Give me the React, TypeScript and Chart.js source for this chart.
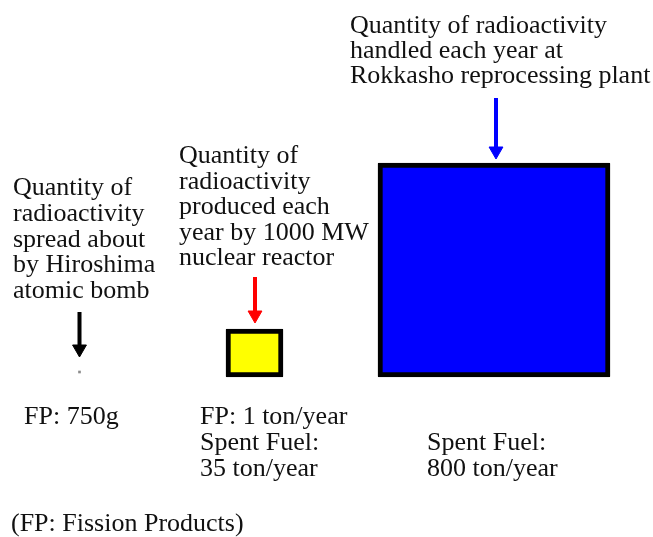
import React, { useEffect, useRef } from 'react';
import { Chart, registerables } from 'chart.js';

Chart.register(...registerables);

// ---- data ----
const categories = ['Hiroshima atomic bomb', '1000 MW nuclear reactor', 'Rokkasho reprocessing plant'];
// relative size of each radioactivity square (width, height in chart units)
const boxWidths = [2, 57, 232];
const boxHeights = [2, 48, 214];
const boxColors = ['#8c8c8c', '#ffff00', '#0000ff'];
const arrowColors = ['#000000', '#ff0000', '#0000ff'];

const hiroshimaLines = ['Quantity of', 'radioactivity', 'spread about', 'by Hiroshima', 'atomic bomb'];
const reactorLines = ['Quantity of', 'radioactivity', 'produced each', 'year by 1000 MW', 'nuclear reactor'];
const rokkashoLines = ['Quantity of radioactivity', 'handled each year at', 'Rokkasho reprocessing plant'];
const hiroshimaAmounts = ['FP: 750g'];
const reactorAmounts = ['FP: 1 ton/year', 'Spent Fuel:', '35 ton/year'];
const rokkashoAmounts = ['Spent Fuel:', '800 ton/year'];
const footnote = ['(FP: Fission Products)'];

// ---- layout (chart units; 1 unit = 1 px, 0 = box baseline) ----
const boxCenters = [79.5, 254.5, 494];
const boxBase = [4, 0, 0];
const arrowX = [79.5, 255, 496];
const arrowTop = [65, 100, 279];
const arrowTip = [20, 54, 218];
const headR = 8;

const FONT = '26px "Liberation Serif"';

const textBlocks = [
  { lines: hiroshimaLines, x: 13, y: 182, step: 25.8 },
  { lines: reactorLines, x: 179, y: 214, step: 25.5 },
  { lines: rokkashoLines, x: 350, y: 344, step: 25 },
  { lines: hiroshimaAmounts, x: 24, y: -47, step: 26 },
  { lines: reactorAmounts, x: 200, y: -47, step: 26 },
  { lines: rokkashoAmounts, x: 427, y: -73, step: 25.5 },
  { lines: footnote, x: 11, y: -154, step: 26 },
];

const textPlugin = {
  id: 'labelText',
  afterDatasetsDraw(chart: any) {
    const ctx = chart.ctx;
    const xs = chart.scales.x;
    const ys = chart.scales.y;
    ctx.save();
    ctx.font = FONT;
    ctx.fillStyle = '#111111';
    ctx.textAlign = 'left';
    ctx.textBaseline = 'alphabetic';
    textBlocks.forEach((b) => {
      b.lines.forEach((line, i) => {
        ctx.fillText(line, xs.getPixelForValue(b.x), ys.getPixelForValue(b.y - i * b.step));
      });
    });
    ctx.restore();
  },
};

export default function App() {
  const ref = useRef<HTMLCanvasElement | null>(null);

  useEffect(() => {
    if (!ref.current) return;
    const boxSets = categories.map((label, i) => ({
      type: 'bar' as const,
      label,
      data: [{ x: boxCenters[i], y: [boxBase[i], boxBase[i] + boxHeights[i]] }],
      barThickness: boxWidths[i],
      backgroundColor: boxColors[i],
      borderColor: '#000000',
      borderWidth: i === 0 ? 0 : 5,
      borderSkipped: false,
      borderRadius: i === 0 ? 0 : 1,
      stack: 'boxes',
      order: 2,
    }));
    const arrowSets = categories.map((label, i) => ({
      type: 'line' as const,
      label: label + ' arrow',
      data: [
        { x: arrowX[i], y: arrowTop[i] },
        { x: arrowX[i], y: arrowTip[i] + headR },
      ],
      borderColor: arrowColors[i],
      borderWidth: 4,
      borderCapStyle: 'butt',
      tension: 0,
      pointRadius: [0, headR],
      pointStyle: 'triangle',
      pointRotation: 180,
      pointBackgroundColor: arrowColors[i],
      pointBorderColor: arrowColors[i],
      pointBorderWidth: 1,
      order: 1,
    }));

    const chart = new Chart(ref.current, {
      type: 'bar',
      data: { datasets: [...boxSets, ...arrowSets] as any },
      options: {
        responsive: false,
        animation: false,
        events: [],
        layout: { padding: 0, autoPadding: false },
        plugins: { legend: { display: false }, tooltip: { enabled: false }, title: { display: false } },
        scales: {
          x: { type: 'linear', min: 0, max: 653, display: false, offset: false },
          y: { type: 'linear', min: -160, max: 377, display: false, stacked: false },
        },
      },
      plugins: [textPlugin],
    });
    let alive = true;
    const redraw = () => { if (alive) chart.draw(); };
    if ((document as any).fonts && (document as any).fonts.load) {
      (document as any).fonts.load(FONT, 'Quantity').then(redraw).catch(() => {});
    }
    const t = setTimeout(redraw, 200);
    return () => { alive = false; clearTimeout(t); chart.destroy(); };
  }, []);

  return (
    <div style={{ position: 'fixed', left: 0, top: 0, width: 653, height: 537, background: '#ffffff' }}>
      <canvas ref={ref} width={653} height={537} style={{ display: 'block' }} />
      <span style={{ position: 'absolute', left: 0, top: 0, opacity: 0, fontFamily: '"Liberation Serif"', fontSize: 26, pointerEvents: 'none' }}>
        Quantity
      </span>
    </div>
  );
}
